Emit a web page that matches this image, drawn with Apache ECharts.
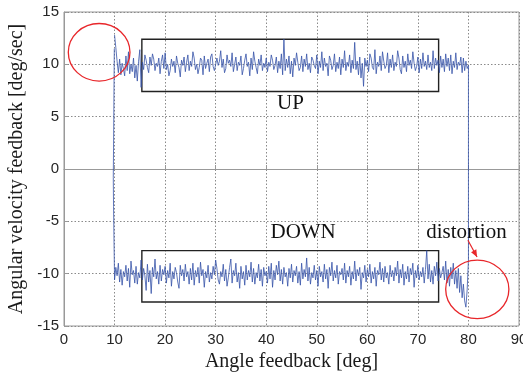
<!DOCTYPE html>
<html>
<head>
<meta charset="utf-8">
<script src="https://cdn.jsdelivr.net/npm/echarts@6/dist/echarts.min.js"></script>
<style>
  html, body { margin: 0; padding: 0; background: #fff; }
  #chart { width: 523px; height: 376px; }
</style>
</head>
<body>
<div id="chart"></div>
<script>
// angle samples: 10 deg onward, every 0.25 deg
const angleStart = 10;
const angleStep = 0.25;

// UP stroke, angle 10 -> 80 deg
const upVelocity = [
  12.8, 11.6, 10.3, 9.2, 10.5, 9.0, 10.1, 9.6, 8.9, 10.8, 9.4, 11.2, 9.1, 10.0, 9.3, 10.6, 8.7, 9.9, 8.4, 10.3,
  11.4, 7.8, 10.2, 9.5, 10.9, 10.4, 9.7, 9.2, 10.7, 9.9, 11.0, 10.5, 9.4, 10.1, 9.8, 10.6, 9.1, 10.3, 10.9, 9.6,
  11.1, 9.5, 10.0, 8.9, 9.4, 10.5, 9.8, 10.3, 9.2, 10.8, 10.1, 9.7, 8.8, 10.4, 9.9, 10.7, 9.3, 10.2, 10.9, 9.4,
  10.3, 9.8, 11.2, 10.6, 9.5, 10.0, 9.1, 9.7, 10.6, 10.4, 9.0, 10.8, 9.6, 10.1, 10.5, 9.3, 10.7, 11.0, 9.8, 9.4,
  9.5, 10.6, 9.9, 10.3, 11.3, 9.7, 10.5, 9.2, 9.6, 10.9, 10.1, 10.4, 9.8, 11.1, 9.3, 10.0, 10.7, 9.4, 10.2, 9.9,
  10.8, 9.0, 9.6, 10.4, 11.0, 9.8, 10.2, 8.9, 10.6, 9.5, 11.2, 10.3, 9.7, 9.1, 10.5, 9.9, 10.9, 9.4, 10.1, 9.7,
  10.6, 9.3, 10.2, 9.8, 10.9, 10.4, 9.5, 9.9, 10.7, 9.2, 10.3, 9.6, 11.0, 9.0, 12.4, 9.4, 10.5, 9.7, 10.8, 9.1,
  10.3, 8.8, 10.6, 9.9, 11.1, 10.2, 9.4, 9.7, 10.8, 9.3, 10.5, 9.8, 11.0, 9.5, 10.1, 9.2, 10.7, 10.4, 9.9, 9.6,
  10.9, 9.1, 10.3, 9.7, 11.2, 9.4, 10.6, 9.8, 10.1, 8.9, 10.8, 10.4, 9.5, 9.9, 11.0, 9.3, 10.2, 9.6, 10.7, 9.0,
  10.5, 9.7, 11.3, 9.4, 10.2, 9.8, 10.9, 9.2, 10.4, 9.6, 12.1, 9.5, 10.3, 9.0, 10.7, 8.7, 10.1, 7.9, 10.6, 9.8,
  10.4, 9.3, 11.0, 10.6, 9.7, 9.5, 11.4, 9.1, 10.2, 9.8, 10.8, 9.4, 11.2, 10.3, 9.6, 9.9, 11.1, 9.2, 10.5, 9.7,
  10.9, 9.4, 10.2, 9.8, 11.3, 10.6, 9.5, 9.1, 10.8, 9.7, 10.3, 9.3, 11.0, 9.9, 10.4, 9.6, 11.2, 10.1, 9.4, 9.8,
  10.7, 9.2, 10.5, 9.6, 11.1, 9.8, 10.3, 9.5, 10.9, 9.7, 10.2, 9.4, 11.3, 9.6, 10.6, 9.9, 10.4, 9.2, 10.8, 9.7,
  10.5, 9.3, 11.0, 9.8, 10.6, 9.4, 10.9, 9.1, 10.3, 9.7, 11.1, 9.5, 10.2, 9.9, 10.7, 9.2, 10.6, 9.4, 10.3, 9.6,
  9.9
];

// DOWN stroke, listed by angle 10 -> 79.75 deg (travelled backwards)
const downVelocity = [
  -10.6, -9.4, -10.2, -9.0, -10.8, -9.6, -11.1, -9.8, -10.3, -9.2, -10.7, -9.5, -11.3, -8.8, -10.1, -9.7, -10.9, -9.3, -11.0, -9.9,
  -10.4, -8.7, -10.6, -9.5, -10.2, -11.6, -9.1, -10.8, -9.7, -11.9, -9.4, -10.3, -8.6, -10.5, -9.8, -11.0, -9.2, -10.7, -9.6, -10.1,
  -9.3, -10.9, -9.7, -10.4, -9.0, -11.2, -9.8, -10.5, -9.4, -9.9, -10.8, -11.4, -9.2, -10.2, -9.6, -10.7, -9.1, -10.3, -9.8, -11.0,
  -9.5, -10.6, -9.0, -11.1, -9.7, -10.3, -9.4, -10.9, -8.9, -10.2, -9.6, -11.3, -9.8, -10.4, -9.2, -10.8, -9.9, -10.5, -9.3, -10.1,
  -8.7, -9.5, -10.6, -11.0, -9.8, -10.3, -9.1, -10.7, -9.6, -11.2, -10.4, -9.4, -8.6, -10.9, -9.7, -10.2, -9.0, -10.8, -9.9, -11.4,
  -9.3, -10.5, -9.8, -11.1, -9.2, -10.6, -9.7, -10.3, -8.9, -10.8, -9.5, -11.0, -9.9, -10.4, -9.1, -10.7, -9.6, -11.2, -9.4, -10.2,
  -9.8, -10.9, -9.3, -10.5, -9.0, -11.3, -9.7, -10.6, -9.2, -10.1, -8.8, -10.7, -9.6, -11.0, -9.4, -10.3, -9.9, -11.2, -9.5, -10.4,
  -9.1, -10.8, -9.7, -10.2, -9.3, -10.9, -9.8, -11.1, -9.0, -10.5, -9.6, -10.3, -8.5, -10.7, -9.4, -11.0, -9.9, -10.4, -9.2, -10.6,
  -9.7, -11.2, -9.3, -10.3, -9.8, -10.8, -9.1, -10.5, -9.6, -11.4, -9.4, -10.2, -8.9, -10.7, -9.7, -10.4, -9.2, -11.0, -9.8, -10.1,
  -9.5, -10.6, -9.0, -10.9, -9.7, -10.3, -9.3, -11.1, -9.8, -10.5, -8.8, -10.7, -9.6, -10.2, -9.4, -11.5, -9.9, -10.4, -9.2, -10.8,
  -9.6, -10.3, -9.1, -10.9, -9.8, -10.5, -9.4, -11.2, -9.7, -10.1, -8.9, -10.6, -9.5, -10.8, -9.3, -10.4, -9.9, -11.0, -9.2, -10.3,
  -9.7, -10.7, -9.4, -10.2, -8.8, -10.9, -9.6, -10.4, -9.1, -11.1, -9.8, -10.5, -9.3, -10.8, -9.5, -10.1, -9.0, -11.3, -9.7, -10.4,
  -9.2, -10.6, -9.8, -10.3, -9.4, -10.9, -9.6, -7.8, -10.5, -9.1, -10.8, -9.7, -11.0, -9.3, -10.2, -8.9, -10.7, -9.5, -10.4, -9.9,
  -9.3, -10.6, -8.8, -10.9, -9.6, -11.2, -9.4, -10.5, -9.0, -11.0, -9.7, -11.4, -9.5, -11.8, -10.2, -12.3, -11.0, -12.6, -13.2, -11.5
];

// reversal at 80 deg, and the return near 10 deg
const reversalAngle = [80.0];
const reversalVelocity = [-8.7];
const returnAngle = [9.8, 9.75, 9.8, 9.95];
const returnVelocity = [-3.6, -0.8, 2.0, 11.5];

const xTicks = { min: 0, max: 90, interval: 10 };
const yTicks = { min: -15, max: 15, interval: 5 };

const upData = upVelocity.map((v, i) => [angleStart + i * angleStep, v]);
const downData = downVelocity.map((v, i) => [angleStart + i * angleStep, v]).reverse();
const reversalData = reversalAngle.map((a, i) => [a, reversalVelocity[i]]);
const returnData = returnAngle.map((a, i) => [a, returnVelocity[i]]);
const traceData = [].concat(upData, reversalData, downData, returnData);

const tickFont = { fontFamily: 'Liberation Sans, Arial, sans-serif', fontSize: 15, color: '#262626' };
const titleFont = { fontFamily: 'Liberation Serif, Times New Roman, serif', fontSize: 20, color: '#1a1a1a' };
const gridLine = { show: true, lineStyle: { color: '#8a8a8a', type: [1.5, 2], width: 1 } };
const axisBox = { show: true, lineStyle: { color: '#999', width: 1 } };

const chart = echarts.init(document.getElementById('chart'));

chart.setOption({
  animation: false,
  backgroundColor: '#fff',
  grid: {
    left: 64, right: 4, top: 12, bottom: 50,
    outerBoundsMode: 'none', containLabel: false,
    show: true, borderColor: '#999', borderWidth: 1
  },
  xAxis: {
    type: 'value',
    min: xTicks.min, max: xTicks.max, interval: xTicks.interval,
    name: 'Angle feedback [deg]',
    nameLocation: 'middle',
    nameGap: 26,
    nameTextStyle: titleFont,
    axisLine: axisBox,
    axisTick: { show: true, inside: true, length: 4, lineStyle: { color: '#999' } },
    axisLabel: Object.assign({ margin: 6 }, tickFont),
    splitLine: gridLine
  },
  yAxis: {
    type: 'value',
    min: yTicks.min, max: yTicks.max, interval: yTicks.interval,
    name: 'Angular velocity feedback [deg/sec]',
    nameLocation: 'middle',
    nameGap: 32,
    nameTextStyle: titleFont,
    axisLine: axisBox,
    axisTick: { show: true, inside: true, length: 4, lineStyle: { color: '#999' } },
    axisLabel: Object.assign({ margin: 5 }, tickFont),
    splitLine: gridLine
  },
  series: [{
    type: 'line',
    data: traceData,
    showSymbol: false,
    symbol: 'none',
    lineStyle: { color: '#3653a8', width: 0.8 },
    markArea: {
      silent: true,
      itemStyle: { color: 'rgba(0,0,0,0)', borderColor: '#222', borderWidth: 1.4 },
      label: { show: false },
      data: [
        [{ xAxis: 15.4, yAxis: 12.4 }, { xAxis: 74.1, yAxis: 7.4 }],
        [{ xAxis: 15.4, yAxis: -7.8 }, { xAxis: 74.1, yAxis: -12.7 }]
      ]
    }
  }]
});

// annotations placed in data coordinates
function px(x, y) { return chart.convertToPixel({ gridIndex: 0 }, [x, y]); }

function ellipseFrom(x0, y0, x1, y1) {
  const a = px(x0, y0), b = px(x1, y1);
  return {
    type: 'ellipse',
    shape: { cx: (a[0] + b[0]) / 2, cy: (a[1] + b[1]) / 2, rx: Math.abs(b[0] - a[0]) / 2, ry: Math.abs(b[1] - a[1]) / 2 },
    style: { fill: null, stroke: '#e8262a', lineWidth: 1.3 },
    z: 100
  };
}

function label(text, x, y) {
  const p = px(x, y);
  return {
    type: 'text', x: p[0], y: p[1], z: 100,
    style: { text: text, fill: '#111', font: '21px "Liberation Serif", "Times New Roman", serif', align: 'center', verticalAlign: 'middle' }
  };
}

const arrowFrom = px(79.9, -6.8);
const arrowTo = px(81.7, -8.4);
const ang = Math.atan2(arrowTo[1] - arrowFrom[1], arrowTo[0] - arrowFrom[0]);
const headLen = 7, headW = 3;
const head = [
  arrowTo,
  [arrowTo[0] - headLen * Math.cos(ang) + headW * Math.sin(ang), arrowTo[1] - headLen * Math.sin(ang) - headW * Math.cos(ang)],
  [arrowTo[0] - headLen * Math.cos(ang) - headW * Math.sin(ang), arrowTo[1] - headLen * Math.sin(ang) + headW * Math.cos(ang)]
];

chart.setOption({
  graphic: [
    ellipseFrom(0.85, 13.9, 13.05, 8.4),
    ellipseFrom(75.5, -8.7, 88.0, -14.3),
    label('UP', 44.8, 6.3),
    label('DOWN', 47.3, -6.1),
    label('distortion', 79.6, -6.1),
    { type: 'line', z: 100, shape: { x1: arrowFrom[0], y1: arrowFrom[1], x2: arrowTo[0], y2: arrowTo[1] }, style: { stroke: '#e8262a', lineWidth: 1.2 } },
    { type: 'polygon', z: 100, shape: { points: head }, style: { fill: '#e8262a' } }
  ]
});
</script>
</body>
</html>
